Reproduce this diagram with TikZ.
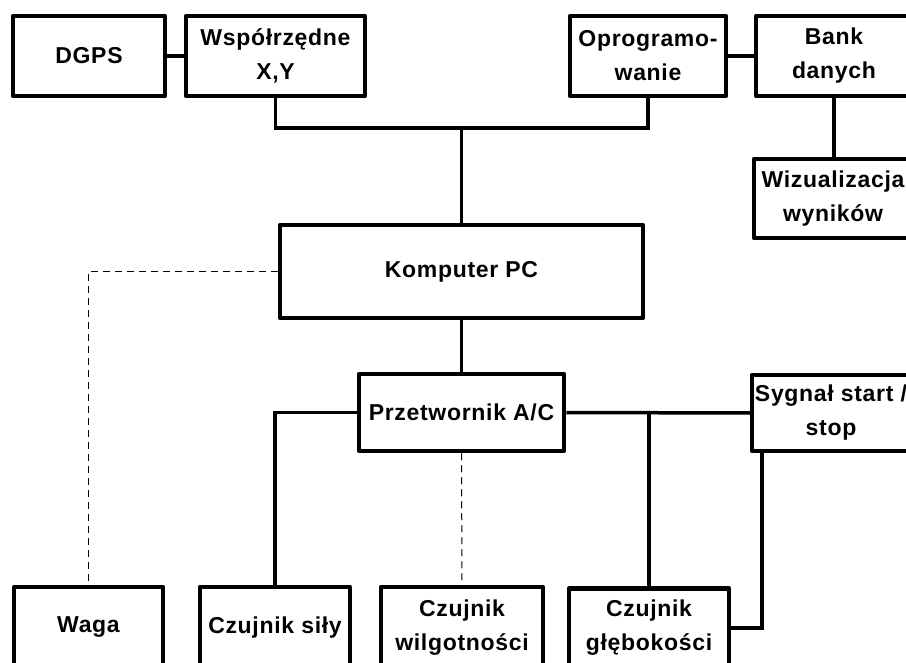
\documentclass[tikz,border=0pt]{standalone}
\usepackage{fontspec}
\setmainfont{Liberation Sans}[LetterSpace=3]
\usetikzlibrary{calc}
\begin{document}
\begin{tikzpicture}[x=1pt,y=-1pt,
 box/.style={draw, line width=4.5pt, line join=round, rectangle, inner sep=0pt, align=center,
   font=\fontsize{23}{34}\selectfont\bfseries},
 conn/.style={line width=3.5pt},
 dconn/.style={line width=1pt, dash pattern=on 7pt off 5pt}]
\useasboundingbox (0,0) rectangle (906,663);
\clip (0,0) rectangle (906,663);
\node[box, minimum width=152pt, minimum height=80pt] (dgps) at (89,56) {DGPS};
\node[box, minimum width=179pt, minimum height=80pt] (wsp) at (275.5,56) {Współrzędne\\X,Y};
\node[box, minimum width=156pt, minimum height=80pt] (opr) at (648,56) {Oprogramo-\\wanie};
\node[box, minimum width=156pt, minimum height=80pt] (bank) at (834,56) {Bank\\danych};
\node[box, minimum width=158pt, minimum height=79pt] (wiz) at (833,198.5) {Wizualizacja\\wyników};
\node[box, minimum width=363pt, minimum height=93pt] (komp) at (461.5,271.5) {Komputer PC};
\node[box, minimum width=205pt, minimum height=77pt] (prz) at (461.5,412.5) {Przetwornik A/C};
\node[box, minimum width=158pt, minimum height=76pt] (syg) at (831,413) {Sygnał start /\\stop};
\node[box, minimum width=149pt, minimum height=81pt] (waga) at (88.5,627.5) {Waga};
\node[box, minimum width=150pt, minimum height=81pt] (sily) at (275,627.5) {Czujnik siły};
\node[box, minimum width=162pt, minimum height=81pt] (wilg) at (462,627.5) {Czujnik\\wilgotności};
\node[box, minimum width=160pt, minimum height=79pt] (gleb) at (649,628) {Czujnik\\głębokości};

\coordinate (jt) at (461.5,128);
\draw[conn] (dgps.east) -- (wsp.west);
\draw[conn] (opr.east) -- (bank.west);
\draw[conn] (wsp.south) |- (jt) -| (opr.south);
\draw[conn] (jt) -- (komp.north);
\draw[conn] (bank.south) -- (bank.south |- wiz.north);
\draw[conn] (komp.south) -- (prz.north);
\draw[conn] (prz.west) -| (sily.north);
\draw[conn] (prz.east) -- (syg.west);
\draw[conn] (gleb.north |- prz.east) -- (gleb.north);
\draw[conn] ([xshift=12pt]syg.south west) |- (gleb.east);
\draw[dconn] (komp.west) -| (waga.north);
\draw[dconn] (prz.south) -- (wilg.north);
\end{tikzpicture}
\end{document}
